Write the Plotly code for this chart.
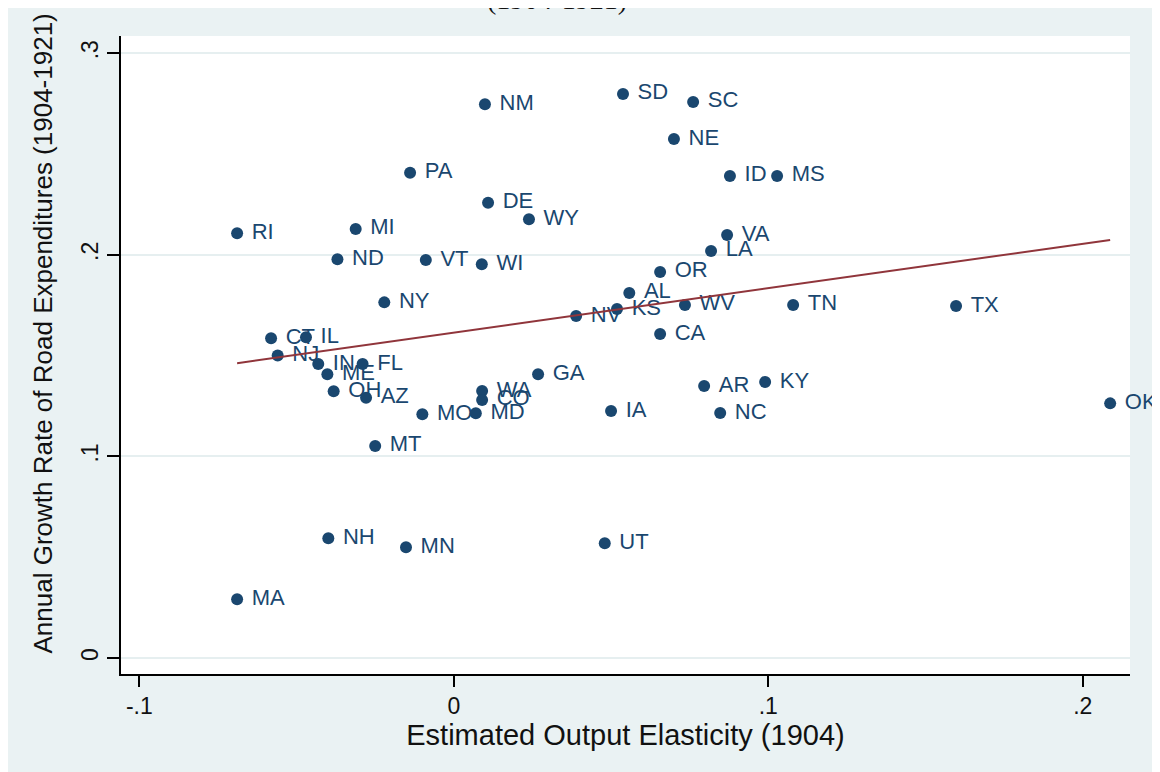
import numpy as np
import plotly.graph_objects as go

states = ["RI", "MA", "MI", "ND", "PA", "NM", "DE", "WY", "VT", "WI", "NY",
          "SD", "SC", "NE", "ID", "MS", "VA", "LA", "OR", "AL", "KS", "NV",
          "WV", "TN", "TX", "CA", "GA", "AR", "KY", "OK", "IA", "NC", "WA",
          "CO", "MD", "MO", "MT", "CT", "IL", "NJ", "IN", "FL", "ME", "OH",
          "AZ", "NH", "MN", "UT"]

elasticity = [-0.0689, -0.0689, -0.0312, -0.0370, -0.0139, 0.0099, 0.0109, 0.0239,
              -0.0089, 0.0089, -0.0221, 0.0538, 0.0761, 0.0700, 0.0878, 0.1028,
              0.0869, 0.0818, 0.0656, 0.0558, 0.0519, 0.0389, 0.0735, 0.1079,
              0.1597, 0.0656, 0.0268, 0.0796, 0.0990, 0.2087, 0.0500, 0.0847,
              0.0090, 0.0090, 0.0070, -0.0100, -0.0250, -0.0581, -0.0470, -0.0560,
              -0.0431, -0.0290, -0.0402, -0.0382, -0.0279, -0.0399, -0.0152, 0.0480]

growth = [0.2107, 0.0291, 0.2128, 0.1978, 0.2407, 0.2747, 0.2258, 0.2176,
          0.1974, 0.1953, 0.1764, 0.2798, 0.2758, 0.2574, 0.2391, 0.2391,
          0.2098, 0.2019, 0.1915, 0.1811, 0.1731, 0.1696, 0.1751, 0.1751,
          0.1746, 0.1607, 0.1407, 0.1349, 0.1369, 0.1263, 0.1225, 0.1215,
          0.1324, 0.1280, 0.1214, 0.1209, 0.1052, 0.1586, 0.1591, 0.1500,
          0.1458, 0.1458, 0.1407, 0.1323, 0.1291, 0.0594, 0.0549, 0.0569]

x_ticks = [-0.1, 0, 0.1, 0.2]
x_ticklabels = ["-.1", "0", ".1", ".2"]
y_ticks = [0, 0.1, 0.2, 0.3]
y_ticklabels = ["0", ".1", ".2", ".3"]

x_title = "Estimated Output Elasticity (1904)"
y_title = "Annual Growth Rate of Road Expenditures (1904-1921)"
top_title = "(1904-1921)"

slope, intercept = np.polyfit(elasticity, growth, 1)
xfit = [min(elasticity), max(elasticity)]
yfit = [intercept + slope * v for v in xfit]

NAVY = "#1a476f"
MAROON = "#90353b"
BG = "#EAF2F3"
FONT = "Liberation Sans, Arial, sans-serif"

fig = go.Figure()
fig.add_trace(go.Scatter(
    x=elasticity, y=growth, mode="markers+text", text=states,
    texttemplate="\u00a0%{text}",
    textposition="middle right",
    textfont=dict(family=FONT, size=22, color=NAVY),
    marker=dict(size=12, color=NAVY, line=dict(width=0)),
    cliponaxis=False, showlegend=False, hoverinfo="text",
))
fig.add_trace(go.Scatter(
    x=xfit, y=yfit, mode="lines",
    line=dict(color=MAROON, width=2),
    showlegend=False, hoverinfo="skip",
))

W, H = 1160, 772
ml, mr, mt, mb = 113, 38, 28, 106
pw, ph = W - ml - mr, H - mt - mb

def px_to_paper_x(px):
    return (px - ml) / pw

def py_to_paper_y(py):
    return (H - mb - py) / ph

annotations = [
    dict(text=top_title, xref="paper", yref="paper",
         x=px_to_paper_x(549), y=py_to_paper_y(-8),
         xanchor="center", yanchor="middle", showarrow=False,
         font=dict(family="Liberation Serif, Times New Roman, serif", size=28, color="#111")),
    dict(text=y_title, xref="paper", yref="paper",
         x=px_to_paper_x(34), y=py_to_paper_y(325.5),
         xanchor="center", yanchor="middle", showarrow=False, textangle=-90,
         font=dict(family=FONT, size=26, color="#111")),
]

fig.update_layout(
    width=W, height=H,
    margin=dict(l=ml, r=mr, t=mt, b=mb, autoexpand=False),
    paper_bgcolor=BG, plot_bgcolor="white",
    annotations=annotations,
    font=dict(family=FONT, color="#111"),
    xaxis=dict(
        range=[-0.10582, 0.21501], tickvals=x_ticks, ticktext=x_ticklabels,
        ticks="outside", ticklen=11, tickwidth=1.5, tickcolor="black",
        showline=True, linecolor="black", linewidth=1.5,
        showgrid=False, zeroline=False,
        tickfont=dict(family=FONT, size=23, color="#111"),
        title=dict(text=x_title, font=dict(family=FONT, size=29, color="#111"), standoff=5),
        automargin=False,
    ),
    yaxis=dict(
        range=[-0.00794, 0.30853], tickvals=y_ticks, ticktext=y_ticklabels,
        tickangle=-90,
        ticks="outside", ticklen=12, tickwidth=1.5, tickcolor="black",
        showline=True, linecolor="black", linewidth=1.5,
        showgrid=True, gridcolor="#E6EFF0", gridwidth=1.5, zeroline=False,
        tickfont=dict(family=FONT, size=23, color="#111"),
        automargin=False,
    ),
)

fig.write_html("out.html")
